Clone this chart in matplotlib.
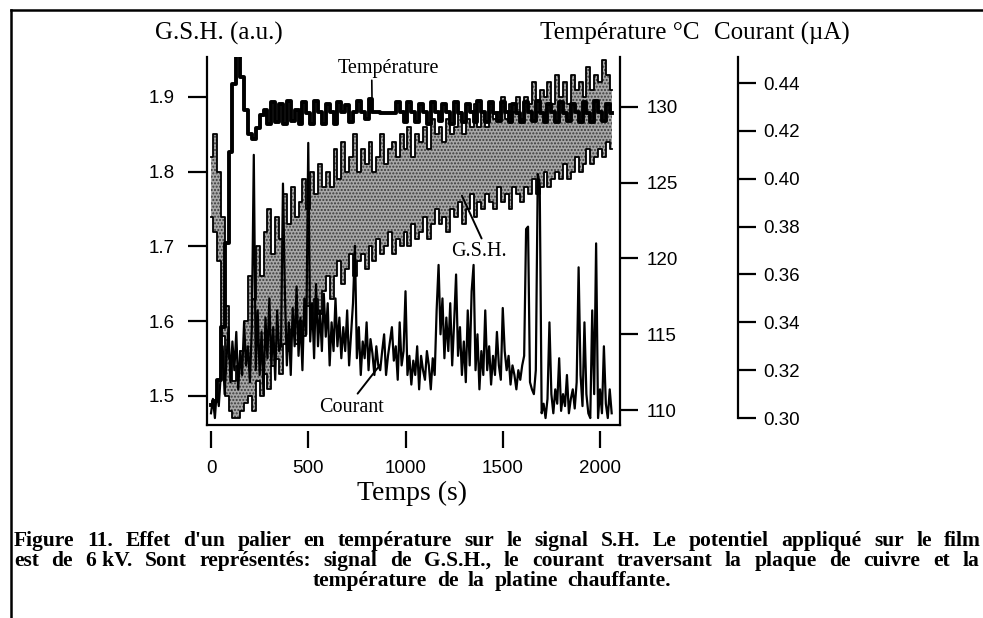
import numpy as np
import matplotlib
matplotlib.use('Agg')
import matplotlib.pyplot as plt
from matplotlib.lines import Line2D
from matplotlib.ticker import FormatStrFormatter

W, H = 983, 618

# sampling of the recorded traces (s)
t_env = np.arange(0, 2080, 20)
t_cur = np.arange(0, 2070, 10)

# G.S.H. signal (a.u.) : lower / upper envelope of the noisy trace
gsh_high = [
    1.82, 1.85, 1.80, 1.74, 1.62, 1.55, 1.52, 1.54, 1.56, 1.60,
    1.66, 1.63, 1.70, 1.66, 1.72, 1.75, 1.69, 1.74, 1.71, 1.77,
    1.73, 1.78, 1.74, 1.76, 1.79, 1.75, 1.80, 1.77, 1.81, 1.78,
    1.80, 1.78, 1.83, 1.79, 1.84, 1.80, 1.82, 1.85, 1.80, 1.83,
    1.81, 1.84, 1.80, 1.82, 1.85, 1.81, 1.83, 1.84, 1.82, 1.85,
    1.83, 1.86, 1.82, 1.85, 1.84, 1.86, 1.83, 1.87, 1.85, 1.86,
    1.84, 1.87, 1.85, 1.86, 1.88, 1.85, 1.87, 1.86, 1.89, 1.86,
    1.88, 1.86, 1.89, 1.87, 1.88, 1.90, 1.87, 1.89, 1.88, 1.90,
    1.87, 1.90, 1.89, 1.92, 1.88, 1.91, 1.90, 1.92, 1.89, 1.93,
    1.90, 1.92, 1.89, 1.93, 1.91, 1.92, 1.90, 1.94, 1.91, 1.93,
    1.92, 1.95, 1.93, 1.91,
]
gsh_low = [
    1.74, 1.72, 1.68, 1.58, 1.50, 1.48, 1.47, 1.47, 1.48, 1.49,
    1.50, 1.48, 1.52, 1.50, 1.53, 1.51, 1.54, 1.55, 1.53, 1.57,
    1.56, 1.59, 1.57, 1.60, 1.58, 1.62, 1.59, 1.63, 1.61, 1.64,
    1.66, 1.63, 1.66, 1.68, 1.65, 1.67, 1.69, 1.66, 1.68, 1.69,
    1.67, 1.70, 1.68, 1.71, 1.69, 1.70, 1.72, 1.69, 1.71, 1.70,
    1.72, 1.70, 1.73, 1.71, 1.72, 1.74, 1.71, 1.73, 1.75, 1.73,
    1.74, 1.72, 1.75, 1.74, 1.76, 1.73, 1.75, 1.77, 1.74, 1.76,
    1.75, 1.77, 1.76, 1.75, 1.78, 1.76, 1.77, 1.75, 1.78, 1.77,
    1.76, 1.78, 1.77, 1.79, 1.77, 1.78, 1.80, 1.78, 1.79, 1.80,
    1.79, 1.81, 1.79, 1.80, 1.82, 1.80, 1.81, 1.83, 1.81, 1.82,
    1.83, 1.82, 1.84, 1.83,
]

# heating stage temperature (deg C)
temperature = [
    110.3, 110.6, 112.0, 115.5, 121.0, 127.0, 131.5, 133.4, 132.0, 129.8,
    128.2, 127.9, 128.6, 129.5, 129.8, 128.9, 130.3, 129.0, 130.2, 128.9,
    130.4, 129.1, 129.8, 128.9, 130.3, 129.6, 128.9, 130.4, 129.7, 128.9,
    130.2, 129.7, 128.9, 130.3, 129.7, 130.1, 129.0, 129.7, 130.4, 129.7,
    129.2, 130.5, 129.7, 129.7, 129.6, 129.6, 129.6, 129.6, 130.3, 129.7,
    129.0, 130.3, 129.7, 129.0, 130.2, 129.7, 128.9, 130.3, 129.7, 129.1,
    130.2, 129.7, 128.9, 130.3, 129.6, 129.0, 130.2, 129.7, 129.0, 130.4,
    129.7, 129.0, 130.3, 129.6, 129.1, 130.3, 129.7, 129.0, 130.2, 129.6,
    129.0, 130.3, 129.7, 129.1, 130.4, 129.6, 129.0, 130.2, 129.7, 129.0,
    130.3, 129.6, 129.1, 130.2, 129.7, 129.0, 130.3, 129.6, 129.0, 130.4,
    129.7, 129.1, 130.2, 129.6,
]

# current through the copper plate (uA)
courant = [
    0.302, 0.308, 0.300, 0.312, 0.305, 0.318, 0.330, 0.310, 0.325, 0.338,
    0.315, 0.332, 0.320, 0.336, 0.312, 0.328, 0.318, 0.340, 0.322, 0.330,
    0.315, 0.338, 0.410, 0.320, 0.345, 0.318, 0.336, 0.310, 0.342, 0.325,
    0.350, 0.322, 0.338, 0.316, 0.345, 0.328, 0.330, 0.398, 0.352, 0.322,
    0.340, 0.318, 0.346, 0.330, 0.355, 0.326, 0.342, 0.320, 0.350, 0.335,
    0.415, 0.332, 0.348, 0.325, 0.356, 0.330, 0.345, 0.328, 0.352, 0.334,
    0.348, 0.322, 0.340, 0.328, 0.350, 0.330, 0.342, 0.325, 0.338, 0.328,
    0.345, 0.322, 0.335, 0.348, 0.372, 0.325, 0.338, 0.318, 0.332, 0.325,
    0.340, 0.320, 0.333, 0.327, 0.318, 0.330, 0.322, 0.320, 0.328, 0.335,
    0.318, 0.326, 0.332, 0.338, 0.324, 0.330, 0.316, 0.340, 0.322, 0.328,
    0.353, 0.318, 0.326, 0.314, 0.324, 0.318, 0.330, 0.312, 0.326, 0.320,
    0.316, 0.328, 0.322, 0.312, 0.325, 0.318, 0.345, 0.364, 0.335, 0.350,
    0.325, 0.342, 0.328, 0.348, 0.322, 0.340, 0.360, 0.326, 0.338, 0.318,
    0.332, 0.315, 0.345, 0.322, 0.353, 0.364, 0.320, 0.335, 0.312, 0.328,
    0.318, 0.345, 0.320, 0.330, 0.314, 0.326, 0.318, 0.336, 0.322, 0.316,
    0.346, 0.328, 0.320, 0.326, 0.314, 0.322, 0.318, 0.312, 0.320, 0.316,
    0.322, 0.326, 0.379, 0.380, 0.315, 0.312, 0.310, 0.320, 0.402, 0.398,
    0.302, 0.306, 0.300, 0.308, 0.340, 0.310, 0.302, 0.312, 0.306, 0.325,
    0.303, 0.310, 0.305, 0.318, 0.302, 0.308, 0.312, 0.304, 0.315, 0.363,
    0.318, 0.305, 0.340, 0.310, 0.302, 0.300, 0.345, 0.310, 0.373, 0.300,
    0.312, 0.302, 0.330, 0.306, 0.300, 0.312, 0.302,
]

x_ticks = [0, 500, 1000, 1500, 2000]
gsh_ticks = [1.5, 1.6, 1.7, 1.8, 1.9]
temp_ticks = [110, 115, 120, 125, 130]
cur_ticks = [0.30, 0.32, 0.34, 0.36, 0.38, 0.40, 0.42, 0.44]

plt.rcParams['font.family'] = 'Liberation Sans'
serif = 'Liberation Serif'

fig = plt.figure(figsize=(W / 100, H / 100), dpi=100)
fig.patch.set_facecolor('white')

# plot box in pixels: left, right, top, bottom
bx0, bx1, by0, by1 = 207, 620, 57, 425
ax = fig.add_axes([bx0 / W, 1 - by1 / H, (bx1 - bx0) / W, (by1 - by0) / H])
ax.patch.set_visible(False)
axC = ax.twinx()
axT = ax.twinx()

tick_kw = dict(direction='out', width=1.6, colors='k', labelsize=13.5)

# --- G.S.H. (left axis) ---
ax.fill_between(t_env, gsh_low, gsh_high, step='mid', facecolor='#a8a8a8',
                edgecolor='#3a3a3a', linewidth=0, hatch='.....', zorder=1)
ax.step(t_env, gsh_high, where='mid', color='k', lw=1.3, zorder=2)
ax.step(t_env, gsh_low, where='mid', color='k', lw=1.3, zorder=2)
ax.set_xlim(-20.6, 2102.8)
ax.set_ylim(1.4612, 1.9535)
ax.set_xticks(x_ticks)
ax.set_yticks(gsh_ticks)
ax.yaxis.set_major_formatter(FormatStrFormatter('%.1f'))
ax.tick_params(axis='y', length=14, pad=9, **tick_kw)
ax.tick_params(axis='x', length=12, pad=9, **tick_kw)
for s in ['top', 'right']:
    ax.spines[s].set_visible(False)
ax.spines['left'].set_linewidth(1.6)
ax.spines['bottom'].set_position(('outward', 4))
ax.spines['bottom'].set_visible(False)

# --- Courant (detached right axis) ---
axC.plot(t_cur, courant, color='k', lw=1.6)
axC.set_ylim(0.2971, 0.4509)
axC.set_yticks(cur_ticks)
axC.yaxis.set_major_formatter(FormatStrFormatter('%.2f'))
axC.tick_params(axis='y', length=13, pad=5, **tick_kw)
for s in ['top', 'bottom', 'left']:
    axC.spines[s].set_visible(False)
axC.spines['right'].set_position(('axes', (738 - bx0) / (bx1 - bx0)))
axC.spines['right'].set_bounds(0.30, 0.4509)
axC.spines['right'].set_linewidth(1.6)

# --- Temperature (right axis of the box) ---
axT.plot(t_env, temperature, drawstyle='steps-mid', color='k', lw=2.8)
axT.set_ylim(109.01, 133.30)
axT.set_yticks(temp_ticks)
axT.tick_params(axis='y', length=13, pad=6.5, **tick_kw)
for s in ['top', 'left']:
    axT.spines[s].set_visible(False)
axT.spines['right'].set_linewidth(1.6)
axT.spines['bottom'].set_linewidth(1.6)

# curve labels with pointers
lab_kw = dict(textcoords='figure pixels', ha='center', va='center',
              fontsize=14.5, family=serif)
axT.annotate('Température', xy=(828, 130.3), xytext=(388, H - 68),
             arrowprops=dict(arrowstyle='-', color='k', lw=1.2, relpos=(0.34, 0),
                             shrinkA=0, shrinkB=0), **lab_kw)
ax.annotate('G.S.H.', xy=(1290, 1.768), xytext=(479, H - 252),
            arrowprops=dict(arrowstyle='-', color='k', lw=1.4, relpos=(0.58, 1),
                            shrinkA=1, shrinkB=0), **lab_kw)
axC.annotate('Courant', xy=(869, 0.3222), xytext=(352, H - 407),
             arrowprops=dict(arrowstyle='-', color='k', lw=1.4, relpos=(0.54, 1),
                             shrinkA=1, shrinkB=0), **lab_kw)

# axis titles
fig.text(219 / W, 1 - 33 / H, 'G.S.H. (a.u.)', ha='center', va='center',
         fontsize=18, family=serif)
fig.text(620 / W, 1 - 33 / H, 'Température °C', ha='center', va='center',
         fontsize=18, family=serif)
fig.text(782 / W, 1 - 33 / H, 'Courant (µA)', ha='center', va='center',
         fontsize=18, family=serif)
fig.text(412 / W, 1 - 493 / H, 'Temps (s)', ha='center', va='center',
         fontsize=20, family=serif)

# page frame
fig.add_artist(Line2D([10.5 / W, 1], [1 - 10 / H, 1 - 10 / H], color='k', lw=1.8,
                      transform=fig.transFigure))
fig.add_artist(Line2D([10.5 / W, 10.5 / W], [0, 1 - 10 / H], color='k', lw=1.8,
                      transform=fig.transFigure))

# caption, words spread over each line
cap_kw = dict(fontsize=15.5, fontweight='bold', family=serif, va='baseline', ha='left')
cap_lines = [
    "Figure 11. Effet d'un palier en température sur le signal S.H. Le potentiel appliqué sur le film",
    "est de 6\u00a0kV. Sont représentés: signal de G.S.H., le courant traversant la plaque de cuivre et la",
    "température de la platine chauffante.",
]
r = fig.canvas.get_renderer()


def justify(line, y, xa, xb):
    words = line.split(' ')
    items = [fig.text(0, 1 - y / H, w, **cap_kw) for w in words]
    widths = [t.get_window_extent(renderer=r).width for t in items]
    gap = (xb - xa - sum(widths)) / (len(words) - 1)
    x = xa
    for t, w in zip(items, widths):
        t.set_x(x / W)
        x += w + gap


justify(cap_lines[0], 546, 14, 981)
justify(cap_lines[1], 566, 14, 979)
justify(cap_lines[2], 586, 313, 671)

fig.savefig('out.png', dpi=100)
